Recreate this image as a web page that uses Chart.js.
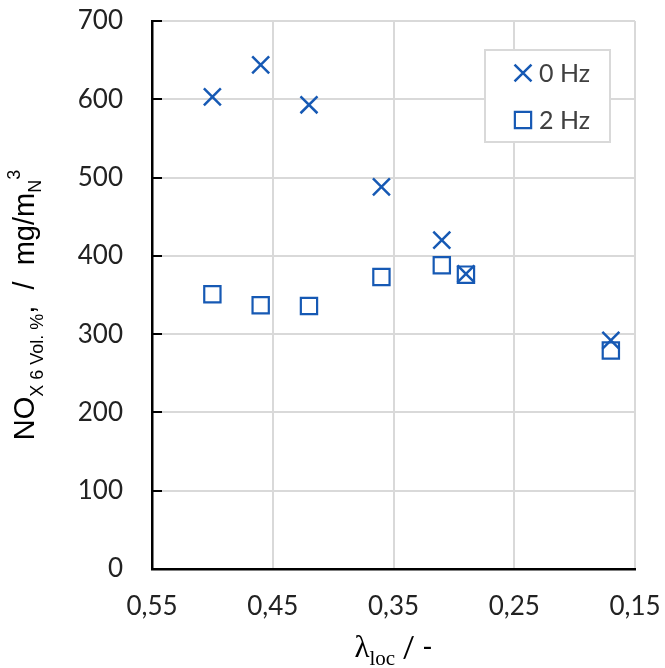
<!DOCTYPE html>
<html><head><meta charset="utf-8">
<script src="https://cdn.jsdelivr.net/npm/chart.js@4.4.1/dist/chart.umd.min.js"></script>
<style>html,body{margin:0;padding:0;background:#fff}#wrap{width:665px;height:668px}</style>
</head><body><div id="wrap"><canvas id="c" width="665" height="668"></canvas></div>
<script>
// ---- data ----
const lambda0Hz = [0.50, 0.46, 0.42, 0.36, 0.31, 0.29, 0.17];
const nox0Hz    = [603, 644, 593, 488, 420, 377, 292];
const lambda2Hz = [0.50, 0.46, 0.42, 0.36, 0.31, 0.29, 0.17];
const nox2Hz    = [351, 337, 336, 373, 388, 376, 279];
const seriesNames = ['0 Hz', '2 Hz'];
const xTickValues = [0.55, 0.45, 0.35, 0.25, 0.15];
const yTickValues = [0, 100, 200, 300, 400, 500, 600, 700];

const BLUE = '#1659b4';
const GRID = '#d9d9d9';
const TICKFONT = {family: 'Lato', size: 26};

const ds0 = lambda0Hz.map((x, i) => ({x: x, y: nox0Hz[i]}));
const ds2 = lambda2Hz.map((x, i) => ({x: x, y: nox2Hz[i]}));

function zeroPad(s) { s.paddingTop = 0; s.paddingBottom = 0; s.paddingLeft = 0; s.paddingRight = 0; }

const insideTicks = {
  id: 'insideTicks',
  beforeDatasetsDraw(chart) {
    const ctx = chart.ctx, y = chart.scales.y, a = chart.chartArea;
    ctx.save();
    ctx.strokeStyle = '#000'; ctx.lineWidth = 2;
    y.ticks.forEach(t => {
      const py = Math.round(y.getPixelForValue(t.value));
      ctx.beginPath(); ctx.moveTo(a.left, py); ctx.lineTo(a.left + 10, py); ctx.stroke();
    });
    ctx.restore();
  }
};

function drawSegments(ctx, segs, x0, baseY) {
  let x = x0;
  segs.forEach(s => {
    ctx.font = s.font;
    ctx.fillText(s.t, x, baseY + (s.dy || 0));
    x += ctx.measureText(s.t).width;
  });
}
function segWidth(ctx, segs) {
  let w = 0;
  segs.forEach(s => { ctx.font = s.font; w += ctx.measureText(s.t).width; });
  return w;
}

const titles = {
  id: 'titles',
  afterDraw(chart) {
    const ctx = chart.ctx, a = chart.chartArea;
    ctx.save();
    ctx.fillStyle = '#000';
    ctx.textBaseline = 'alphabetic';
    // y title
    const ySegs = [
      {t: 'NO', font: '29px "Liberation Sans"'},
      {t: 'X 6 Vol. %', font: '18px "Liberation Sans"', dy: 9},
      {t: ',  /  mg/m', font: '29px "Liberation Sans"'},
      {t: 'N', font: '18px "Liberation Sans"', dy: 7},
      {t: '3', font: '18px "Liberation Sans"', dy: -14}
    ];
    const yw = segWidth(ctx, ySegs);
    const cy = (a.top + a.bottom) / 2 + 10;
    ctx.save();
    ctx.translate(34, cy + yw / 2);
    ctx.rotate(-Math.PI / 2);
    drawSegments(ctx, ySegs, 0, 0);
    ctx.restore();
    // x title
    const xSegs = [
      {t: '\u03bb', font: '31px "Liberation Serif"'},
      {t: 'loc', font: '21px "Liberation Serif"', dy: 8},
      {t: ' / -', font: '28px Lato'}
    ];
    const xw = segWidth(ctx, xSegs);
    const cx = (a.left + a.right) / 2;
    drawSegments(ctx, xSegs, cx - xw / 2, 657);
    ctx.restore();
  }
};

const boxLegend = {
  id: 'boxLegend',
  afterDraw(chart) {
    const ctx = chart.ctx;
    const bx = 485, by = 50, bw = 125, bh = 92;
    ctx.save();
    ctx.fillStyle = '#fff';
    ctx.fillRect(bx, by, bw, bh);
    ctx.strokeStyle = GRID; ctx.lineWidth = 2;
    ctx.strokeRect(bx, by, bw, bh);
    chart.data.datasets.forEach((d, i) => {
      const yy = by + 23 + i * 47;
      ctx.strokeStyle = d.borderColor; ctx.fillStyle = 'rgba(0,0,0,0)';
      ctx.lineWidth = d.borderWidth;
      Chart.helpers.drawPoint(ctx, {pointStyle: d.pointStyle, radius: d.pointRadius, borderWidth: d.borderWidth}, bx + 38, yy);
      ctx.fillStyle = '#404040';
      ctx.font = '25px Lato';
      ctx.textBaseline = 'middle';
      ctx.textAlign = 'left';
      ctx.fillText(d.label, bx + 54, yy + 1);
    });
    ctx.restore();
  }
};

new Chart(document.getElementById('c'), {
  type: 'scatter',
  data: {
    datasets: [
      {label: seriesNames[0], data: ds0, pointStyle: 'crossRot', pointRadius: 12, pointHoverRadius: 12,
       borderColor: BLUE, backgroundColor: 'rgba(0,0,0,0)', borderWidth: 2.5},
      {label: seriesNames[1], data: ds2, pointStyle: 'rect', pointRadius: 11.5, pointHoverRadius: 11.5,
       borderColor: BLUE, backgroundColor: 'rgba(0,0,0,0)', borderWidth: 2.2}
    ]
  },
  options: {
    responsive: false,
    animation: false,
    devicePixelRatio: 1,
    layout: {padding: {top: 21, right: 30, left: 0, bottom: 0}},
    plugins: {legend: {display: false}, tooltip: {enabled: false}},
    scales: {
      x: {
        type: 'linear', reverse: true, min: 0.15, max: 0.55,
        afterBuildTicks: s => { s.ticks = xTickValues.map(v => ({value: v})); },
        afterFit: s => { s.height = 99; zeroPad(s); },
        ticks: {font: TICKFONT, color: '#222', padding: 22,
                callback: v => v.toFixed(2).replace('.', ',')},
        grid: {color: GRID, lineWidth: 2, drawTicks: false},
        border: {color: '#000', width: 2.5}
      },
      y: {
        min: 0, max: 700,
        afterBuildTicks: s => { s.ticks = yTickValues.map(v => ({value: v})); },
        afterFit: s => { s.width = 152; zeroPad(s); },
        ticks: {font: TICKFONT, color: '#222', padding: 29},
        grid: {color: GRID, lineWidth: 2, drawTicks: false},
        border: {color: '#000', width: 2.5}
      }
    }
  },
  plugins: [insideTicks, titles, boxLegend]
});
</script>
</body></html>
